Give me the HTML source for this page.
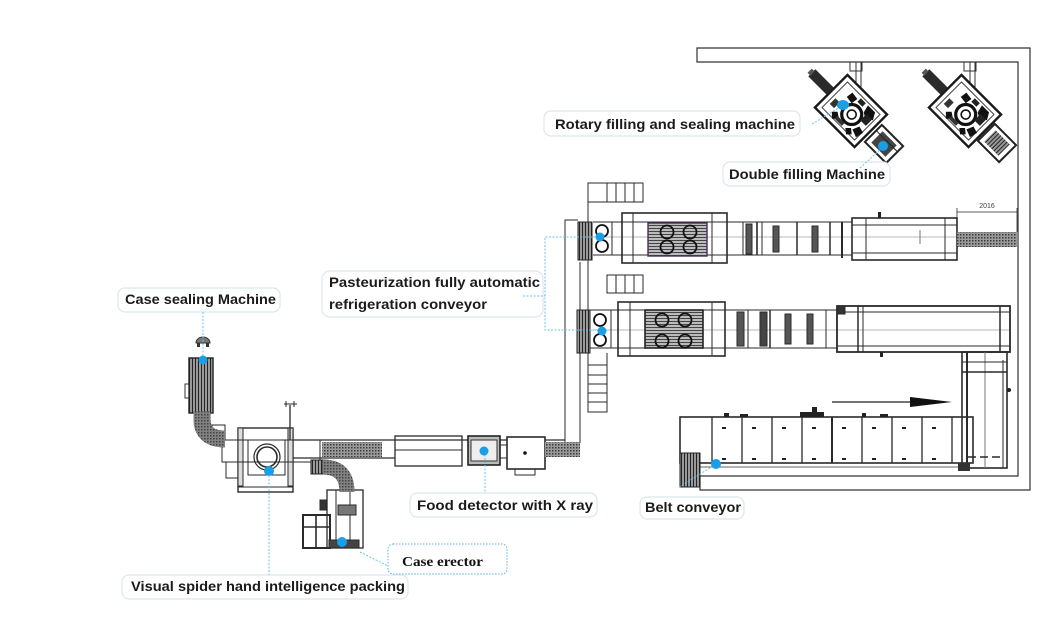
<!DOCTYPE html>
<html><head><meta charset="utf-8"><style>
html,body{margin:0;padding:0;background:#fff;}
svg{display:block;}
.lbl{font-family:"Liberation Sans",sans-serif;font-weight:bold;font-size:14px;fill:#1b1b1b;}
</style></head><body>
<svg width="1054" height="637" viewBox="0 0 1054 637" xmlns="http://www.w3.org/2000/svg">
<defs>
<pattern id="mesh" width="3" height="3" patternUnits="userSpaceOnUse">
<rect width="3" height="3" fill="#9a9a9a"/><rect width="1.5" height="1.5" fill="#3a3a3a"/>
</pattern>
<pattern id="hl" width="4" height="3" patternUnits="userSpaceOnUse">
<rect width="4" height="3" fill="#bbb"/><rect width="4" height="1" fill="#444"/>
</pattern>
<pattern id="vl" width="3" height="4" patternUnits="userSpaceOnUse">
<rect width="3" height="4" fill="#999"/><rect width="1" height="4" fill="#222"/>
</pattern>
<g id="rotm">
<line x1="856" y1="62" x2="856" y2="90" stroke="#333" stroke-width="1"/>
<line x1="861" y1="62" x2="861" y2="92" stroke="#333" stroke-width="1"/>
<rect x="850" y="62" width="12" height="9" fill="none" stroke="#333"/>
<g transform="translate(851,111) rotate(45)">
<rect x="-28" y="-23" width="56" height="46" fill="#fff" stroke="#1a1a1a" stroke-width="2.4"/>
<rect x="-23" y="-18" width="46" height="36" fill="none" stroke="#444" stroke-width="1"/>
<circle cx="3" cy="2" r="10" fill="none" stroke="#111" stroke-width="3.2"/>
<circle cx="3" cy="2" r="4.5" fill="#fff" stroke="#111" stroke-width="1.6"/>
<path d="M8 -16 l10 0 l4 7 l-7 4 l-5 -3 z M17 5 l7 2 l-2 8 l-8 -3 z M-9 10 l6 4 l-5 5 l-5 -5 z M-12 -14 l8 1 l-1 7 l-8 -1 z M12 12 l5 4 l-4 4 l-5 -4z" fill="#111"/>
<rect x="13" y="-9" width="8" height="9" fill="#222"/>
<rect x="-2" y="-16" width="7" height="5" fill="#222"/>
<rect x="-20" y="2" width="6" height="8" fill="#333"/>
<rect x="-6" y="13" width="10" height="4" fill="#333"/>
</g>
<g transform="translate(821,82) rotate(45)">
<rect x="-13" y="-5" width="26" height="10" fill="#2a2a2a"/>
<rect x="-16" y="-3" width="4" height="6" fill="#555"/>
</g>
</g>
</defs>

<!-- walls -->
<g fill="none" stroke="#333" stroke-width="1.2">
<path d="M697 48 H1030 V490 H700 V476 H1018 V62 H697 Z"/>
</g>

<!-- rotary machines -->
<use href="#rotm"/>
<g transform="translate(884,144) rotate(45)">
<rect x="-15" y="-12" width="30" height="24" fill="#fff" stroke="#222" stroke-width="2"/>
<rect x="-10" y="-8" width="20" height="16" fill="#444"/>
<line x1="-15" y1="-4" x2="15" y2="-4" stroke="#222"/>
</g>
<use href="#rotm" transform="translate(114,0)"/>
<g transform="translate(997,143) rotate(45)">
<rect x="-15" y="-12" width="30" height="24" fill="#fff" stroke="#222" stroke-width="2"/>
<rect x="-10" y="-8" width="20" height="16" fill="url(#vl)"/>
</g>

<!-- conveyors structure -->
<g fill="none" stroke="#2a2a2a" stroke-width="1">
<line x1="588" y1="183" x2="588" y2="412"/>
<rect x="588" y="183" width="55" height="19"/>
<line x1="607" y1="183" x2="607" y2="202"/>
<line x1="616" y1="183" x2="616" y2="202"/><line x1="625" y1="183" x2="625" y2="202"/><line x1="634" y1="183" x2="634" y2="202"/>
<rect x="607" y="275" width="36" height="18"/>
<line x1="616" y1="275" x2="616" y2="293"/><line x1="625" y1="275" x2="625" y2="293"/><line x1="634" y1="275" x2="634" y2="293"/>
<rect x="588" y="365" width="19" height="47"/>
<line x1="588" y1="375" x2="607" y2="375"/><line x1="588" y1="384" x2="607" y2="384"/><line x1="588" y1="393" x2="607" y2="393"/><line x1="588" y1="402" x2="607" y2="402"/>
<line x1="607" y1="353" x2="607" y2="365"/>
<path d="M565 443 V220 H578"/>
<line x1="580" y1="262" x2="580" y2="443"/>

<!-- LINE 1 -->
<line x1="593" y1="222" x2="852" y2="222"/>
<line x1="593" y1="255" x2="852" y2="255"/>
<line x1="593" y1="237" x2="1017" y2="237" stroke="#777" stroke-width="0.6"/>
<rect x="622" y="213" width="105" height="50" stroke-width="1.6"/>
<line x1="633" y1="213" x2="633" y2="263"/>
<line x1="712" y1="213" x2="712" y2="263"/>
<rect x="648" y="223" width="59" height="33" fill="url(#hl)" stroke="#4a2f55" stroke-width="1.4"/>
<line x1="612" y1="222" x2="612" y2="255"/>
<line x1="743" y1="222" x2="743" y2="255"/>
<rect x="746" y="224" width="6" height="30" fill="#555"/>
<line x1="757" y1="222" x2="757" y2="255" stroke-width="1.6"/>
<line x1="762" y1="222" x2="762" y2="255"/>
<rect x="773" y="226" width="6" height="26" fill="#555"/>
<line x1="797" y1="222" x2="797" y2="255" stroke-width="1.5"/>
<rect x="812" y="226" width="6" height="26" fill="#555"/>
<line x1="830" y1="222" x2="830" y2="255" stroke-width="1.5"/>
<line x1="842" y1="222" x2="842" y2="258" stroke-width="2"/>
<rect x="852" y="218" width="105" height="42" stroke-width="1.6"/>
<line x1="852" y1="225" x2="957" y2="225"/>
<line x1="852" y1="253" x2="957" y2="253"/>
<line x1="866" y1="218" x2="866" y2="260"/>
<line x1="945" y1="218" x2="945" y2="260"/>
<line x1="920" y1="230" x2="920" y2="244" stroke="#777"/>
<line x1="957" y1="212" x2="1017" y2="212" stroke-width="0.8"/>
<line x1="957" y1="208" x2="957" y2="232" stroke-width="0.8"/>
<line x1="1017" y1="208" x2="1017" y2="232" stroke-width="0.8"/>

<!-- LINE 2 -->
<line x1="590" y1="310" x2="837" y2="310"/>
<line x1="590" y1="348" x2="837" y2="348"/>
<line x1="590" y1="330" x2="1010" y2="330" stroke="#777" stroke-width="0.6"/>
<rect x="618" y="302" width="107" height="54" stroke-width="1.6"/>
<line x1="630" y1="302" x2="630" y2="356"/>
<line x1="712" y1="302" x2="712" y2="356"/>
<rect x="645" y="310" width="58" height="38" fill="url(#hl)" stroke="#222" stroke-width="1.6"/>
<line x1="611" y1="310" x2="611" y2="348"/>
<rect x="737" y="312" width="7" height="34" fill="#555"/>
<line x1="748" y1="310" x2="748" y2="348"/>
<rect x="760" y="312" width="7" height="34" fill="#444"/>
<line x1="770" y1="310" x2="770" y2="348" stroke-width="1.5"/>
<rect x="785" y="314" width="6" height="30" fill="#555"/>
<rect x="807" y="314" width="6" height="30" fill="#555"/>
<line x1="826" y1="310" x2="826" y2="348"/>
<rect x="837" y="306" width="173" height="46" stroke-width="1.8"/>
<line x1="837" y1="312" x2="1010" y2="312"/>
<line x1="837" y1="346" x2="1010" y2="346"/>
<rect x="837" y="306" width="8" height="8" fill="#333"/>
<line x1="858" y1="306" x2="858" y2="352" stroke-width="1.5"/>
<line x1="863" y1="306" x2="863" y2="352"/>
<line x1="1000" y1="306" x2="1000" y2="352" stroke-width="1.5"/>
<rect x="962" y="352" width="45" height="116" stroke-width="1.6"/>
<line x1="967" y1="352" x2="967" y2="468" stroke-width="2"/>
<line x1="985" y1="352" x2="985" y2="468" stroke="#777"/>
<line x1="1003" y1="360" x2="1003" y2="468"/>
<line x1="962" y1="362" x2="1007" y2="362"/>
<line x1="962" y1="372" x2="1007" y2="372" stroke-width="1.6"/>
<line x1="968" y1="457" x2="1003" y2="457" stroke-width="1.6" stroke-dasharray="8 4"/>

<!-- Belt conveyor -->
<rect x="680" y="417" width="293" height="46" stroke-width="1.6"/>
<line x1="698" y1="467" x2="962" y2="467" stroke="#666"/>
<g stroke-width="1.3">
<line x1="712" y1="417" x2="712" y2="463"/><line x1="742" y1="417" x2="742" y2="463"/>
<line x1="772" y1="417" x2="772" y2="463"/><line x1="802" y1="417" x2="802" y2="463"/>
<line x1="832" y1="417" x2="832" y2="463" stroke-width="2"/><line x1="862" y1="417" x2="862" y2="463"/>
<line x1="892" y1="417" x2="892" y2="463"/><line x1="922" y1="417" x2="922" y2="463"/>
<line x1="952" y1="417" x2="952" y2="463"/>
</g>
<line x1="832" y1="402" x2="912" y2="402" stroke="#222" stroke-width="1.2"/>

<!-- x-ray line -->
<line x1="293" y1="440" x2="565" y2="440" stroke-width="1.2"/>
<line x1="293" y1="458" x2="395" y2="458" stroke-width="1.2"/>
<rect x="395" y="436" width="67" height="30" stroke-width="1.3"/>
<line x1="395" y1="450" x2="462" y2="450"/>
<rect x="507" y="437" width="38" height="32" fill="#fff" stroke-width="1.6"/>
<rect x="515" y="469" width="20" height="6"/>
<line x1="500" y1="445" x2="507" y2="445"/><line x1="500" y1="458" x2="507" y2="458"/>

<!-- spider -->
<rect x="238" y="428" width="55" height="64" fill="#fff" stroke-width="1.4"/>
<line x1="238" y1="487" x2="293" y2="487"/>
<rect x="238" y="428" width="5" height="58" fill="#ddd"/>
<rect x="288" y="428" width="5" height="58" fill="#ddd"/>
<line x1="222" y1="440" x2="322" y2="440"/>
<line x1="222" y1="462" x2="322" y2="462"/>
<rect x="222" y="440" width="16" height="22"/>
<rect x="226" y="462" width="12" height="16"/>
<rect x="212" y="425" width="13" height="15"/>
<rect x="248" y="440" width="37" height="35"/>
<circle cx="267" cy="457" r="13" stroke-width="1.2"/>
<circle cx="267" cy="457" r="10" stroke-width="1.6"/>
<rect x="293" y="440" width="27" height="22"/>
<line x1="290" y1="405" x2="290" y2="440" stroke-width="1.3"/>
<path d="M284 404 H297 M286 401 v6 M294 401 v6"/>

<!-- case erector -->
<rect x="327" y="490" width="36" height="58" stroke-width="1.3"/>
<line x1="336" y1="490" x2="336" y2="548"/><line x1="350" y1="490" x2="350" y2="548"/>
<rect x="338" y="505" width="18" height="10" fill="#777"/>
<rect x="303" y="515" width="27" height="33" stroke-width="2"/>
<line x1="303" y1="527" x2="330" y2="527" stroke-width="1.6"/>
<line x1="316" y1="515" x2="316" y2="548" stroke-width="1.6"/>
<rect x="329" y="540" width="30" height="8" fill="#444"/>
<rect x="320" y="500" width="6" height="10" fill="#333"/>
</g>

<!-- filled dark parts -->
<g>
<rect x="578" y="222" width="14" height="38" fill="url(#vl)" stroke="#222"/>
<rect x="577" y="310" width="13" height="43" fill="url(#vl)" stroke="#222"/>
<circle cx="602" cy="231" r="6" fill="#fff" stroke="#111" stroke-width="1.8"/>
<circle cx="602" cy="246" r="6" fill="#fff" stroke="#111" stroke-width="1.8"/>
<circle cx="600" cy="320" r="6" fill="#fff" stroke="#111" stroke-width="1.8"/>
<circle cx="600" cy="340" r="6" fill="#fff" stroke="#111" stroke-width="1.8"/>
<g fill="none" stroke="#111" stroke-width="1.8">
<circle cx="667" cy="232" r="6.5"/><circle cx="690" cy="232" r="6.5"/>
<circle cx="667" cy="247" r="6.5"/><circle cx="690" cy="247" r="6.5"/>
<circle cx="662" cy="320" r="6.5"/><circle cx="685" cy="320" r="6.5"/>
<circle cx="662" cy="341" r="6.5"/><circle cx="685" cy="341" r="6.5"/>
</g>
<rect x="957" y="232" width="60" height="15" fill="url(#mesh)"/>
<rect x="545" y="442" width="35" height="15" fill="url(#mesh)"/>
<rect x="322" y="442" width="60" height="15" fill="url(#mesh)"/>
<rect x="468" y="436" width="32" height="29" fill="#bbb" stroke="#222" stroke-width="1.6"/>
<rect x="471" y="440" width="26" height="21" fill="#eee" stroke="#333"/>
<circle cx="525" cy="453" r="1.8" fill="#111"/>
<rect x="680" y="453" width="20" height="34" fill="url(#vl)" stroke="#222"/>
<rect x="958" y="463" width="12" height="8" fill="#333"/>
<polygon points="910,397 952,402 910,407" fill="#111"/>
<g fill="#222">
<rect x="724" y="413" width="5" height="4"/><rect x="740" y="414" width="8" height="3"/>
<rect x="800" y="412" width="24" height="5"/><rect x="812" y="407" width="5" height="6"/>
<rect x="862" y="413" width="4" height="4"/><rect x="880" y="414" width="8" height="3"/>
<rect x="722" y="427" width="4" height="2"/><rect x="752" y="427" width="4" height="2"/><rect x="782" y="427" width="4" height="2"/><rect x="812" y="427" width="4" height="2"/><rect x="842" y="427" width="4" height="2"/><rect x="872" y="427" width="4" height="2"/><rect x="902" y="427" width="4" height="2"/><rect x="932" y="427" width="4" height="2"/>
<rect x="722" y="458" width="4" height="2"/><rect x="752" y="458" width="4" height="2"/><rect x="782" y="458" width="4" height="2"/><rect x="812" y="458" width="4" height="2"/><rect x="842" y="458" width="4" height="2"/><rect x="872" y="458" width="4" height="2"/><rect x="902" y="458" width="4" height="2"/><rect x="932" y="458" width="4" height="2"/>
<rect x="878" y="212" width="3" height="6"/><rect x="880" y="352" width="3" height="5"/>
<circle cx="1009" cy="390" r="2"/>
</g>
<!-- case sealer -->
<path d="M196 343 a7 6 0 0 1 14 0 z" fill="#777" stroke="#333"/>
<rect x="197" y="343" width="3" height="4" fill="#333"/><rect x="206" y="343" width="3" height="4" fill="#333"/>
<rect x="189" y="358" width="24" height="55" fill="url(#vl)" stroke="#222" stroke-width="1.4"/>
<rect x="185" y="384" width="4" height="14" fill="none" stroke="#333"/>
<path d="M202 411 V419 Q202 439 225 439" fill="none" stroke="url(#mesh)" stroke-width="17"/>
<path d="M202 411 V419 Q202 439 225 439" fill="none" stroke="#555" stroke-width="17" stroke-opacity="0.35"/>
<rect x="311" y="460" width="12" height="14" fill="url(#vl)" stroke="#222"/>
<path d="M323 467 Q347 467 347 492" fill="none" stroke="url(#mesh)" stroke-width="15"/>
<path d="M323 467 Q347 467 347 492" fill="none" stroke="#555" stroke-width="15" stroke-opacity="0.35"/>
</g>

<text x="987" y="208" font-family="Liberation Sans,sans-serif" font-size="7" fill="#444" text-anchor="middle">2016</text>

<!-- label boxes -->
<g fill="#fff" stroke="#dbe7ee" stroke-width="1.2">
<rect x="544" y="111" width="256" height="25" rx="7"/>
<rect x="723" y="162" width="167" height="24" rx="7"/>
<rect x="322" y="271" width="221" height="46" rx="8"/>
<rect x="118" y="288" width="162" height="24" rx="7"/>
<rect x="410" y="493" width="187" height="24" rx="7"/>
<rect x="122" y="575" width="286" height="24" rx="7"/>
<rect x="640" y="497" width="104" height="22" rx="7"/>
</g>
<rect x="388" y="544" width="119" height="30" rx="5" fill="#fff" stroke="#5fb0dc" stroke-width="1" stroke-dasharray="1.5 1.5"/>

<!-- connectors -->
<g fill="none" stroke="#6ec3ea" stroke-width="1" stroke-dasharray="2 1.5">
<line x1="812" y1="124" x2="842" y2="106"/>
<line x1="860" y1="168" x2="883" y2="147"/>
<path d="M523 296 H545 M600 237 H545 V330 H600"/>
<line x1="203" y1="312" x2="203" y2="360"/>
<line x1="269" y1="472" x2="269" y2="575"/>
<line x1="485" y1="451" x2="485" y2="493"/>
<line x1="360" y1="552" x2="388" y2="566"/>
<line x1="716" y1="464" x2="678" y2="488"/>
</g>
<g fill="#1a9ee6">
<ellipse cx="843" cy="105" rx="6" ry="5"/>
<circle cx="883" cy="146" r="5"/>
<circle cx="600" cy="237" r="4.5"/>
<circle cx="602" cy="331" r="4.5"/>
<circle cx="203" cy="360" r="4.5"/>
<circle cx="269" cy="471" r="5"/>
<circle cx="484" cy="451" r="4.5"/>
<circle cx="342" cy="542" r="5"/>
<circle cx="716" cy="464" r="5"/>
</g>

<!-- labels -->
<text class="lbl" x="555" y="129" textLength="240" lengthAdjust="spacingAndGlyphs">Rotary filling and sealing machine</text>
<text class="lbl" x="729" y="179" textLength="156" lengthAdjust="spacingAndGlyphs">Double filling Machine</text>
<text class="lbl" x="329" y="287" textLength="211" lengthAdjust="spacingAndGlyphs">Pasteurization fully automatic</text>
<text class="lbl" x="329" y="309" textLength="158" lengthAdjust="spacingAndGlyphs">refrigeration conveyor</text>
<text class="lbl" x="125" y="304" textLength="151" lengthAdjust="spacingAndGlyphs">Case sealing Machine</text>
<text class="lbl" x="417" y="510" textLength="176" lengthAdjust="spacingAndGlyphs">Food detector with  X ray</text>
<text class="lbl" x="131" y="591" textLength="274" lengthAdjust="spacingAndGlyphs">Visual spider hand intelligence packing</text>
<text class="lbl" x="645" y="512" textLength="96" lengthAdjust="spacingAndGlyphs">Belt conveyor</text>
<text x="402" y="566" font-family="Liberation Serif,serif" font-weight="bold" font-size="14" fill="#111" textLength="81" lengthAdjust="spacingAndGlyphs">Case erector</text>
</svg>
</body></html>
